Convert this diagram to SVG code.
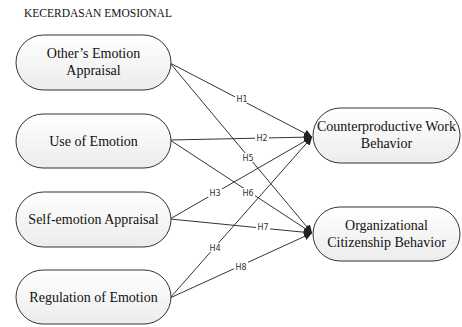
<svg xmlns="http://www.w3.org/2000/svg" width="462" height="327" viewBox="0 0 462 327">
<defs>
<linearGradient id="g" x1="0" y1="0" x2="0" y2="1"><stop offset="0" stop-color="#ffffff"/><stop offset="1" stop-color="#ececec"/></linearGradient>
<marker id="ah" viewBox="0 0 10 10" refX="10" refY="5" markerWidth="8" markerHeight="8" orient="auto" markerUnits="userSpaceOnUse"><path d="M0,0 L10,5 L0,10 Z" fill="#222"/></marker>
<style>
.n rect{fill:url(#g);stroke:#333;stroke-width:1}
.c line{stroke:#333;stroke-width:1;marker-end:url(#ah)}
.l rect{fill:#fff}
.l text{font-family:"DejaVu Sans",sans-serif;font-size:8px;fill:#333;text-anchor:middle}
</style>
</defs>
<rect width="462" height="327" fill="#fff"/>
<text x="24" y="17" font-family="'Liberation Serif', 'Times New Roman', serif" font-size="11.5" fill="#111">KECERDASAN EMOSIONAL</text>
<g class="c">
<line x1="170" y1="63" x2="312" y2="137"/>
<line x1="170" y1="140" x2="312" y2="137"/>
<line x1="170" y1="219" x2="312" y2="137"/>
<line x1="170" y1="298" x2="312" y2="137"/>
<line x1="170" y1="63" x2="312" y2="233"/>
<line x1="170" y1="140" x2="312" y2="233"/>
<line x1="170" y1="219" x2="312" y2="233"/>
<line x1="170" y1="298" x2="312" y2="233"/>
</g>
<g class="l">
<rect x="235" y="94" width="14" height="9"/><text x="242" y="102">H1</text>
<rect x="255" y="133" width="14" height="9"/><text x="262" y="141">H2</text>
<rect x="208" y="188" width="14" height="9"/><text x="215" y="196">H3</text>
<rect x="208" y="243" width="14" height="9"/><text x="215" y="251">H4</text>
<rect x="241" y="153" width="14" height="9"/><text x="248" y="161">H5</text>
<rect x="241" y="188" width="14" height="9"/><text x="248" y="196">H6</text>
<rect x="256" y="222" width="14" height="9"/><text x="263" y="230">H7</text>
<rect x="234" y="262" width="14" height="9"/><text x="241" y="270">H8</text>
</g>
<g font-family="'Liberation Serif', 'Times New Roman', serif" font-size="14" fill="#111" text-anchor="middle">
<g id="oea" class="n"><rect x="16" y="35" width="155" height="55" rx="27.5"/><text x="93.5" y="58">Other’s Emotion</text><text x="93.5" y="75">Appraisal</text></g>
<g id="uoe" class="n"><rect x="16" y="114" width="155" height="54" rx="27"/><text x="93.5" y="146">Use of Emotion</text></g>
<g id="sea" class="n"><rect x="16" y="192" width="155" height="55" rx="27.5"/><text x="93.5" y="224">Self-emotion Appraisal</text></g>
<g id="roe" class="n"><rect x="16" y="270" width="155" height="54" rx="27"/><text x="93.5" y="302">Regulation of Emotion</text></g>
<g id="cwb" class="n"><rect x="313" y="108" width="147" height="55" rx="27.5"/><text x="386.5" y="131">Counterproductive Work</text><text x="386.5" y="148">Behavior</text></g>
<g id="ocb" class="n"><rect x="313" y="207" width="147" height="54" rx="27"/><text x="386.5" y="230">Organizational</text><text x="386.5" y="247">Citizenship Behavior</text></g>
</g>
</svg>
